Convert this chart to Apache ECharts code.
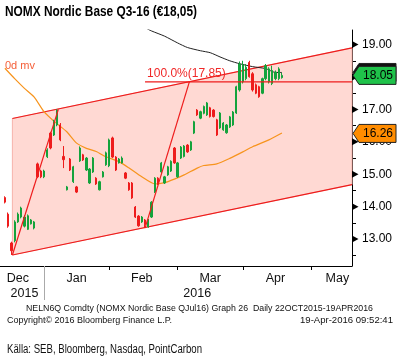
<!DOCTYPE html>
<html><head><meta charset="utf-8">
<script src="https://cdn.jsdelivr.net/npm/echarts@6/dist/echarts.min.js"></script>
<style>html,body{margin:0;padding:0;background:#fff}#c{width:400px;height:361px}</style>
</head><body><div id="c"></div><script>
// ---- categories: trading days (weekdays without exchange holidays)
const categories = [
'2015-12-10','2015-12-11','2015-12-14','2015-12-15','2015-12-16','2015-12-17','2015-12-18','2015-12-21','2015-12-22','2015-12-23','2015-12-28','2015-12-29','2015-12-30',
'2016-01-04','2016-01-05','2016-01-06','2016-01-07','2016-01-08','2016-01-11','2016-01-12','2016-01-13','2016-01-14','2016-01-15','2016-01-18','2016-01-19','2016-01-20','2016-01-21','2016-01-22','2016-01-25','2016-01-26','2016-01-27','2016-01-28','2016-01-29',
'2016-02-01','2016-02-02','2016-02-03','2016-02-04','2016-02-05','2016-02-08','2016-02-09','2016-02-10','2016-02-11','2016-02-12','2016-02-15','2016-02-16','2016-02-17','2016-02-18','2016-02-19','2016-02-22','2016-02-23','2016-02-24','2016-02-25','2016-02-26','2016-02-29',
'2016-03-01','2016-03-02','2016-03-03','2016-03-04','2016-03-07','2016-03-08','2016-03-09','2016-03-10','2016-03-11','2016-03-14','2016-03-15','2016-03-16','2016-03-17','2016-03-18','2016-03-21','2016-03-22','2016-03-23','2016-03-29','2016-03-30','2016-03-31',
'2016-04-01','2016-04-04','2016-04-05','2016-04-06','2016-04-07','2016-04-08','2016-04-11','2016-04-12','2016-04-13','2016-04-14','2016-04-15','2016-04-18','2016-04-19','2016-04-20','2016-04-21','2016-04-22','2016-04-25','2016-04-26','2016-04-27','2016-04-28','2016-04-29',
'2016-05-02','2016-05-03','2016-05-04','2016-05-06','2016-05-09','2016-05-10','2016-05-11','2016-05-12','2016-05-13','2016-05-18','2016-05-19','2016-05-20','2016-05-23'
];
// ---- candles: [open, close, low, high]
const candles = [
'-',[14.28,14.14,14.10,14.32],[13.77,13.40,13.35,13.82],[12.88,12.64,12.51,12.92],[12.95,13.53,12.90,13.58],
[13.53,13.77,13.50,13.82],[13.68,13.96,13.64,14.00],[13.40,13.68,13.36,13.74],[13.30,13.72,13.28,13.76],[13.47,13.59,13.45,13.62],
[13.34,13.53,13.30,13.56],[15.32,14.92,14.88,15.36],[15.10,14.92,14.88,15.14],[14.92,15.10,14.88,15.14],[15.54,15.75,15.50,15.80],
[16.27,15.81,15.77,16.31],[16.21,16.63,16.18,16.68],[16.52,16.98,16.48,17.00],[16.52,16.06,16.02,16.58],[15.55,15.45,15.19,15.87],
[14.52,14.61,14.50,14.64],[15.47,15.13,15.10,15.50],[14.77,15.23,14.73,15.26],[14.61,14.45,14.42,14.64],[15.41,15.81,15.38,15.86],
[15.60,15.44,15.41,15.63],[15.13,15.50,15.10,15.53],[14.73,15.16,14.70,15.19],[15.07,15.50,15.04,15.53],[14.88,14.70,14.67,14.91],
[14.52,14.77,14.50,14.80],[14.92,15.07,14.90,15.10],[15.29,15.66,15.26,15.70],[15.26,16.06,15.22,16.10],[16.12,15.53,15.50,16.16],
[15.53,15.13,15.10,15.56],[15.35,15.47,15.33,15.50],[15.35,15.50,15.33,15.55],[15.04,14.88,14.85,15.07],[14.73,14.52,14.49,14.76],
[14.73,14.27,14.24,14.76],[13.99,13.68,13.65,14.02],[13.71,13.41,13.38,13.74],[13.53,13.68,13.50,13.71],[13.59,13.44,13.34,13.62],
[13.38,13.59,13.35,13.62],[13.68,14.14,13.65,14.17],[14.45,14.88,14.42,14.91],[14.88,14.70,14.67,14.91],[15.07,15.35,15.04,15.38],
[14.73,14.92,14.70,14.95],[14.98,15.23,14.95,15.26],[15.10,15.40,15.07,15.43],[15.81,15.35,15.32,15.84],[14.92,15.35,14.89,15.38],
[15.50,15.84,15.47,15.87],[15.55,15.87,15.52,15.90],[15.90,15.69,15.66,15.93],[15.75,16.00,15.72,16.03],[16.27,16.62,16.24,16.65],
[16.98,16.83,16.80,17.01],[16.73,16.93,16.70,16.96],[16.88,17.09,16.85,17.12],[16.83,17.20,16.80,17.23],[17.05,16.78,16.75,17.08],
[16.98,16.78,16.75,17.01],[16.68,16.21,16.18,16.71],[16.43,16.89,16.40,16.92],[16.37,16.58,16.34,16.61],[16.28,16.52,16.25,16.55],
[16.46,16.77,16.43,16.80],[16.52,16.92,16.49,16.95],[16.89,17.70,16.86,17.73],[17.60,18.40,17.55,18.48],[17.85,18.37,17.80,18.50],
[17.95,18.30,17.90,18.40],[18.45,18.01,17.98,18.50],[18.10,17.60,17.55,18.15],[17.76,17.50,17.47,17.80],[17.70,17.39,17.36,17.73],
[17.50,17.95,17.47,17.98],[17.95,18.35,17.90,18.40],[17.85,18.25,17.80,18.30],[17.80,18.20,17.75,18.35],[17.95,18.15,17.90,18.20],
[17.95,18.25,17.90,18.30],[17.98,18.05,17.95,18.13]
];
// ---- moving averages: [category index, value]
const maOrange = [[1,18.27],[4,17.95],[7,17.65],[10,17.38],[13,16.93],[16,16.64],[20,16.31],[23,15.96],[26,15.80],[29,15.70],[32,15.54],[36,15.39],[39,15.20],[43,14.92],[47,14.70],[50,14.74],[53,14.85],[56,14.98],[60,15.19],[62,15.27],[66,15.32],[70,15.49],[74,15.69],[77,15.85],[82,16.06],[86,16.27]];
const maBlack = [[44,19.52],[46,19.42],[50,19.26],[54,19.05],[57,18.91],[61,18.81],[64,18.75],[67,18.62],[70,18.50],[73,18.41],[77,18.32],[81,18.26],[84,18.14],[86,18.14]];
// ---- drawn analysis lines (fractional category index, value)
const channelUpper = [[3.3,16.72],[107.5,18.90]];
const channelLower = [[3.3,12.51],[107.5,14.68]];
const trendLine1 = [[3.3,12.51],[17.4,17.00]];
const trendLine2 = [[44.0,13.34],[57.6,17.85]];
const fibLine = [[44.0,17.85],[107.5,17.85]];
const fibText = '100.0%(17.85)';
// ---- axis ticks / labels
const monthTickDates = ['2016-01-04','2016-02-01','2016-03-01','2016-04-01','2016-05-02'];
const monthLabelDates = ['2015-12-17','2016-01-18','2016-02-15','2016-03-15','2016-04-15','2016-05-13'];
const monthLabels = ['Dec','Jan','Feb','Mar','Apr','May'];
const yearLabelDates = ['2015-12-21','2016-03-09'];
const yearLabels = ['2015','2016'];
const yearDividerDate = '2016-01-04';
const yLabelValues = [13,14,15,16,17,18,19];
const yMinorTickValues = [12.5,13.5,14.5,15.5,16.5,17.5,18.5];
const yMin = 12.17, yMax = 19.45;
// ---- last value tags
const tagValues = [18.14, 18.05, 16.26];
const tagColors = ['#111111', '#1fc24a', '#ff8c00'];

const monthTickIdx = monthTickDates.map(d => categories.indexOf(d));
const monthLabelIdx = monthLabelDates.map(d => categories.indexOf(d));
const yearLabelIdx = yearLabelDates.map(d => categories.indexOf(d));
const yearDividerIdx = categories.indexOf(yearDividerDate);

const FONT = '"Liberation Sans", Arial, sans-serif';
const RED = '#ee1c1c';
const chart = echarts.init(document.getElementById('c'), null, {renderer: 'canvas'});

function ptFn(api) {
  const bw = api.size([1, 0])[0];
  return (xf, v) => { const i = Math.floor(xf); const p = api.coord([i, v]); return [p[0] + (xf - i) * bw, p[1]]; };
}
const measureCtx = document.createElement('canvas').getContext('2d');
function fitText(text, font, x, yc, w, fill, align) {
  measureCtx.font = font;
  const mw = measureCtx.measureText(text).width;
  const s = w / mw;
  const left = align === 'right' ? x - w : x;
  return {type: 'text', x: left, y: yc, scaleX: s, silent: true,
    style: {text, font, fill, align: 'left', verticalAlign: 'middle'}};
}

const option = {
  animation: false,
  textStyle: {fontFamily: FONT},
  grid: {left: 0, right: 48, top: 30, bottom: 95, containLabel: false},
  xAxis: [{
    type: 'category', data: categories, boundaryGap: true,
    axisLine: {show: true, onZero: false, lineStyle: {color: '#000', width: 1}},
    axisTick: {show: true, alignWithLabel: true, length: 4, interval: (i) => monthTickIdx.includes(i), lineStyle: {color: '#000'}},
    axisLabel: {show: true, interval: (i) => monthLabelIdx.includes(i), formatter: (v, i) => monthLabels[monthLabelIdx.indexOf(i)] || '',
      margin: 6, fontSize: 12.5, color: '#111', fontFamily: FONT},
    splitLine: {show: false}
  }, {
    type: 'category', data: categories, boundaryGap: true, position: 'bottom',
    axisLine: {show: false},
    axisTick: {show: true, alignWithLabel: true, length: 34, interval: (i) => i === yearDividerIdx, lineStyle: {color: '#aaaaaa'}},
    axisLabel: {show: true, interval: (i) => yearLabelIdx.includes(i), formatter: (v, i) => yearLabels[yearLabelIdx.indexOf(i)] || '',
      margin: 21, fontSize: 12.5, color: '#111', fontFamily: FONT},
    splitLine: {show: false}
  }],
  yAxis: {
    type: 'value', position: 'right', min: yMin, max: yMax, scale: true,
    axisLine: {show: true, lineStyle: {color: '#000', width: 1}},
    axisTick: {show: true, customValues: yMinorTickValues, length: 4, lineStyle: {color: '#000'}},
    axisLabel: {show: true, customValues: yLabelValues, formatter: (v) => v.toFixed(2), margin: 10, fontSize: 12, color: '#000', fontFamily: FONT},
    splitLine: {show: false}
  },
  series: [
    { // channel fill
      type: 'custom', z: 1, silent: true, data: [[0, 15]], encode: {x: 0, y: 1},
      renderItem: (params, api) => {
        const pt = ptFn(api);
        const u = channelUpper.map(d => pt(d[0], d[1]));
        const l = channelLower.map(d => pt(d[0], d[1]));
        return {type: 'group', children: [
          {type: 'polygon', shape: {points: [l[0], u[0], u[1], l[1]]}, style: {fill: '#ffd9d3', stroke: '#f6b3ab', lineWidth: 1}},
          {type: 'polyline', shape: {points: u}, style: {stroke: RED, lineWidth: 1.2, fill: null}},
          {type: 'polyline', shape: {points: l}, style: {stroke: RED, lineWidth: 1.2, fill: null}}
        ]};
      }
    },
    {type: 'line', z: 2, data: maOrange, showSymbol: false, smooth: 0.2, lineStyle: {color: '#f7941d', width: 1.2}, silent: true},
    {type: 'line', z: 2, data: maBlack, showSymbol: false, smooth: 0.2, lineStyle: {color: '#222', width: 1}, silent: true},
    {type: 'candlestick', z: 3, data: candles, barWidth: 1.8,
      itemStyle: {color: '#14a33c', color0: RED, borderColor: '#14a33c', borderColor0: RED, borderWidth: 1}},
    { // trend lines + fib level
      type: 'custom', z: 4, silent: true, data: [[0, 15]], encode: {x: 0, y: 1},
      renderItem: (params, api) => {
        const pt = ptFn(api);
        const t1 = trendLine1.map(d => pt(d[0], d[1]));
        const t2 = trendLine2.map(d => pt(d[0], d[1]));
        const f = fibLine.map(d => pt(d[0], d[1]));
        return {type: 'group', children: [
          {type: 'polyline', shape: {points: t1}, style: {stroke: RED, lineWidth: 1.2, fill: null}},
          {type: 'polyline', shape: {points: t2}, style: {stroke: RED, lineWidth: 1.2, fill: null}},
          {type: 'polyline', shape: {points: f}, style: {stroke: RED, lineWidth: 1.2, fill: null}},
          {type: 'text', x: f[0][0] + 2, y: f[0][1] - 2, style: {text: fibText, font: '12px ' + FONT, fill: '#f02828', align: 'left', verticalAlign: 'bottom'}}
        ]};
      }
    },
    { // major tick triangles on the right axis
      type: 'custom', z: 5, silent: true, clip: false, data: yLabelValues.map(v => [0, v]), encode: {x: 0, y: 1},
      renderItem: (params, api) => {
        const cs = params.coordSys; const x0 = cs.x + cs.width; const y = api.coord([0, api.value(1)])[1];
        return {type: 'polygon', shape: {points: [[x0, y - 3.5], [x0 + 6.5, y], [x0, y + 3.5]]}, style: {fill: '#000'}};
      }
    },
    { // last value tags
      type: 'custom', z: 6, silent: true, clip: false, data: tagValues.map(v => [0, v]), encode: {x: 0, y: 1},
      renderItem: (params, api) => {
        const cs = params.coordSys; const x0 = cs.x + cs.width; const v = api.value(1); const y = api.coord([0, v])[1];
        const c = tagColors[params.dataIndex];
        return {type: 'group', children: [
          {type: 'polygon', shape: {points: [[x0 + 1, y], [x0 + 7, y - 9], [x0 + 44, y - 9], [x0 + 44, y + 9], [x0 + 7, y + 9]]},
            style: {fill: c, stroke: '#222', lineWidth: 1}},
          {type: 'text', x: x0 + 26, y: y + 0.5, style: {text: v.toFixed(2), font: '12px ' + FONT, fill: '#000', align: 'center', verticalAlign: 'middle'}}
        ]};
      }
    }
  ],
  graphic: [
    fitText('NOMX Nordic Base Q3-16 (€18,05)', 'bold 15px ' + FONT, 5, 12, 192, '#000', 'left'),
    {type: 'text', x: 5, y: 66, silent: true, style: {text: '0d mv', font: '11px ' + FONT, fill: '#f5603a', align: 'left', verticalAlign: 'middle'}},
    fitText('NELN6Q Comdty (NOMX Nordic Base QJul16) Graph 26  Daily 22OCT2015-19APR2016', '9px ' + FONT, 26, 309, 347, '#111', 'left'),
    fitText('Copyright\u00A9 2016 Bloomberg Finance L.P.', '9px ' + FONT, 7, 321, 165, '#111', 'left'),
    fitText('19-Apr-2016 09:52:41', '9px ' + FONT, 393, 321, 93, '#111', 'right'),
    fitText('Källa: SEB, Bloomberg, Nasdaq, PointCarbon', '12.5px ' + FONT, 7, 350, 195, '#111', 'left')
  ]
};
chart.setOption(option);
</script></body></html>
